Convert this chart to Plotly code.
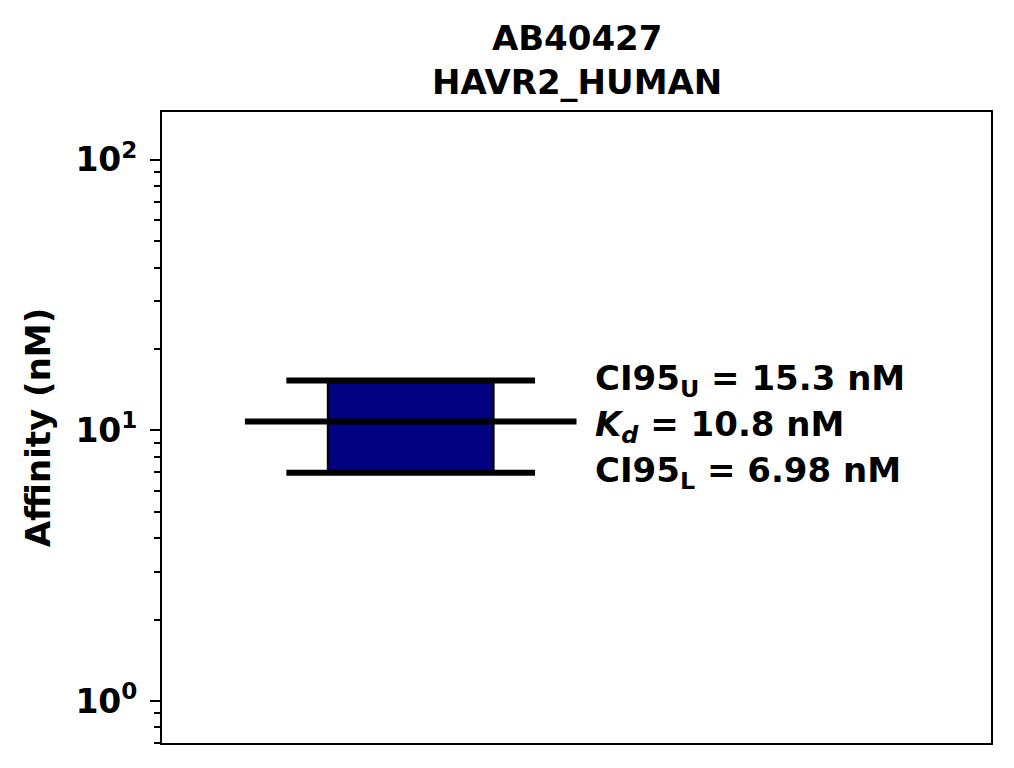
import math
import plotly.graph_objects as go

# valeurs
kd = 10.8
ci95_upper = 15.3
ci95_lower = 6.98
title_lines = ["AB40427", "HAVR2_HUMAN"]

box_x = [0.2, 0.4]
kd_x = [0.1, 0.5]
ci_x = [0.15, 0.45]

font_bold = "DejaVu Sans"

fig = go.Figure()

# boite de l'intervalle de confiance
fig.add_trace(go.Scatter(
    x=[box_x[0], box_x[1], box_x[1], box_x[0], box_x[0]],
    y=[ci95_lower, ci95_lower, ci95_upper, ci95_upper, ci95_lower],
    fill="toself", fillcolor="#000080", mode="lines",
    line=dict(color="black", width=2), hoverinfo="skip"))

# lignes CI et Kd
for xs, yv in [(ci_x, ci95_upper), (ci_x, ci95_lower), (kd_x, kd)]:
    fig.add_trace(go.Scatter(x=xs, y=[yv, yv], mode="lines",
                             line=dict(color="black", width=6)))

labels = [
    (ci95_upper, "<b>CI95<sub>U</sub> = %.1f nM</b>" % ci95_upper, 0),
    (kd, "<b><i>K<sub>d</sub></i> = %.1f nM</b>" % kd, -5),
    (ci95_lower, "<b>CI95<sub>L</sub> = %.2f nM</b>" % ci95_lower, 0),
]
for yv, txt, dy in labels:
    # axe log : l'annotation prend le log10
    fig.add_annotation(x=0.52, y=math.log10(yv), yref="y", text=txt, showarrow=False,
                       xanchor="left", yanchor="middle", yshift=dy,
                       font=dict(family=font_bold, size=34, color="black"))

# titre sur deux lignes au-dessus du cadre
fig.add_annotation(x=0.5, y=1, xref="paper", yref="paper", yanchor="bottom",
                   yshift=8, showarrow=False,
                   text="<b>" + "<br>".join(title_lines) + "</b>",
                   font=dict(family=font_bold, size=34, color="black"))

fig.update_layout(
    width=1006, height=760,
    margin=dict(l=154, r=23, t=104, b=25),
    plot_bgcolor="white", paper_bgcolor="white",
    showlegend=False,
    xaxis=dict(range=[0, 1], showticklabels=False, ticks="", showgrid=False,
               zeroline=False, showline=True, mirror=True,
               linecolor="black", linewidth=2),
    yaxis=dict(type="log", range=[-0.155, 2.177], showgrid=False, zeroline=False,
               showline=True, mirror=True, linecolor="black", linewidth=2,
               tickvals=[1, 10, 100],
               ticktext=["<b>10<sup>0</sup></b>", "<b>10<sup>1</sup></b>", "<b>10<sup>2</sup></b>"],
               ticks="outside", ticklen=10, tickwidth=1.5, tickcolor="black",
               ticklabelstandoff=6,
               tickfont=dict(family=font_bold, size=33, color="black"),
               minor=dict(ticks="outside", ticklen=6, tickwidth=1.5, tickcolor="black",
                          tickvals=[v * d for d in [0.1, 1, 10, 100] for v in range(2, 10)],
                          showgrid=False),
               title=dict(text="<b>Affinity (nM)</b>", standoff=14,
                          font=dict(family=font_bold, size=34, color="black"))),
)

fig.write_html("out.html")
